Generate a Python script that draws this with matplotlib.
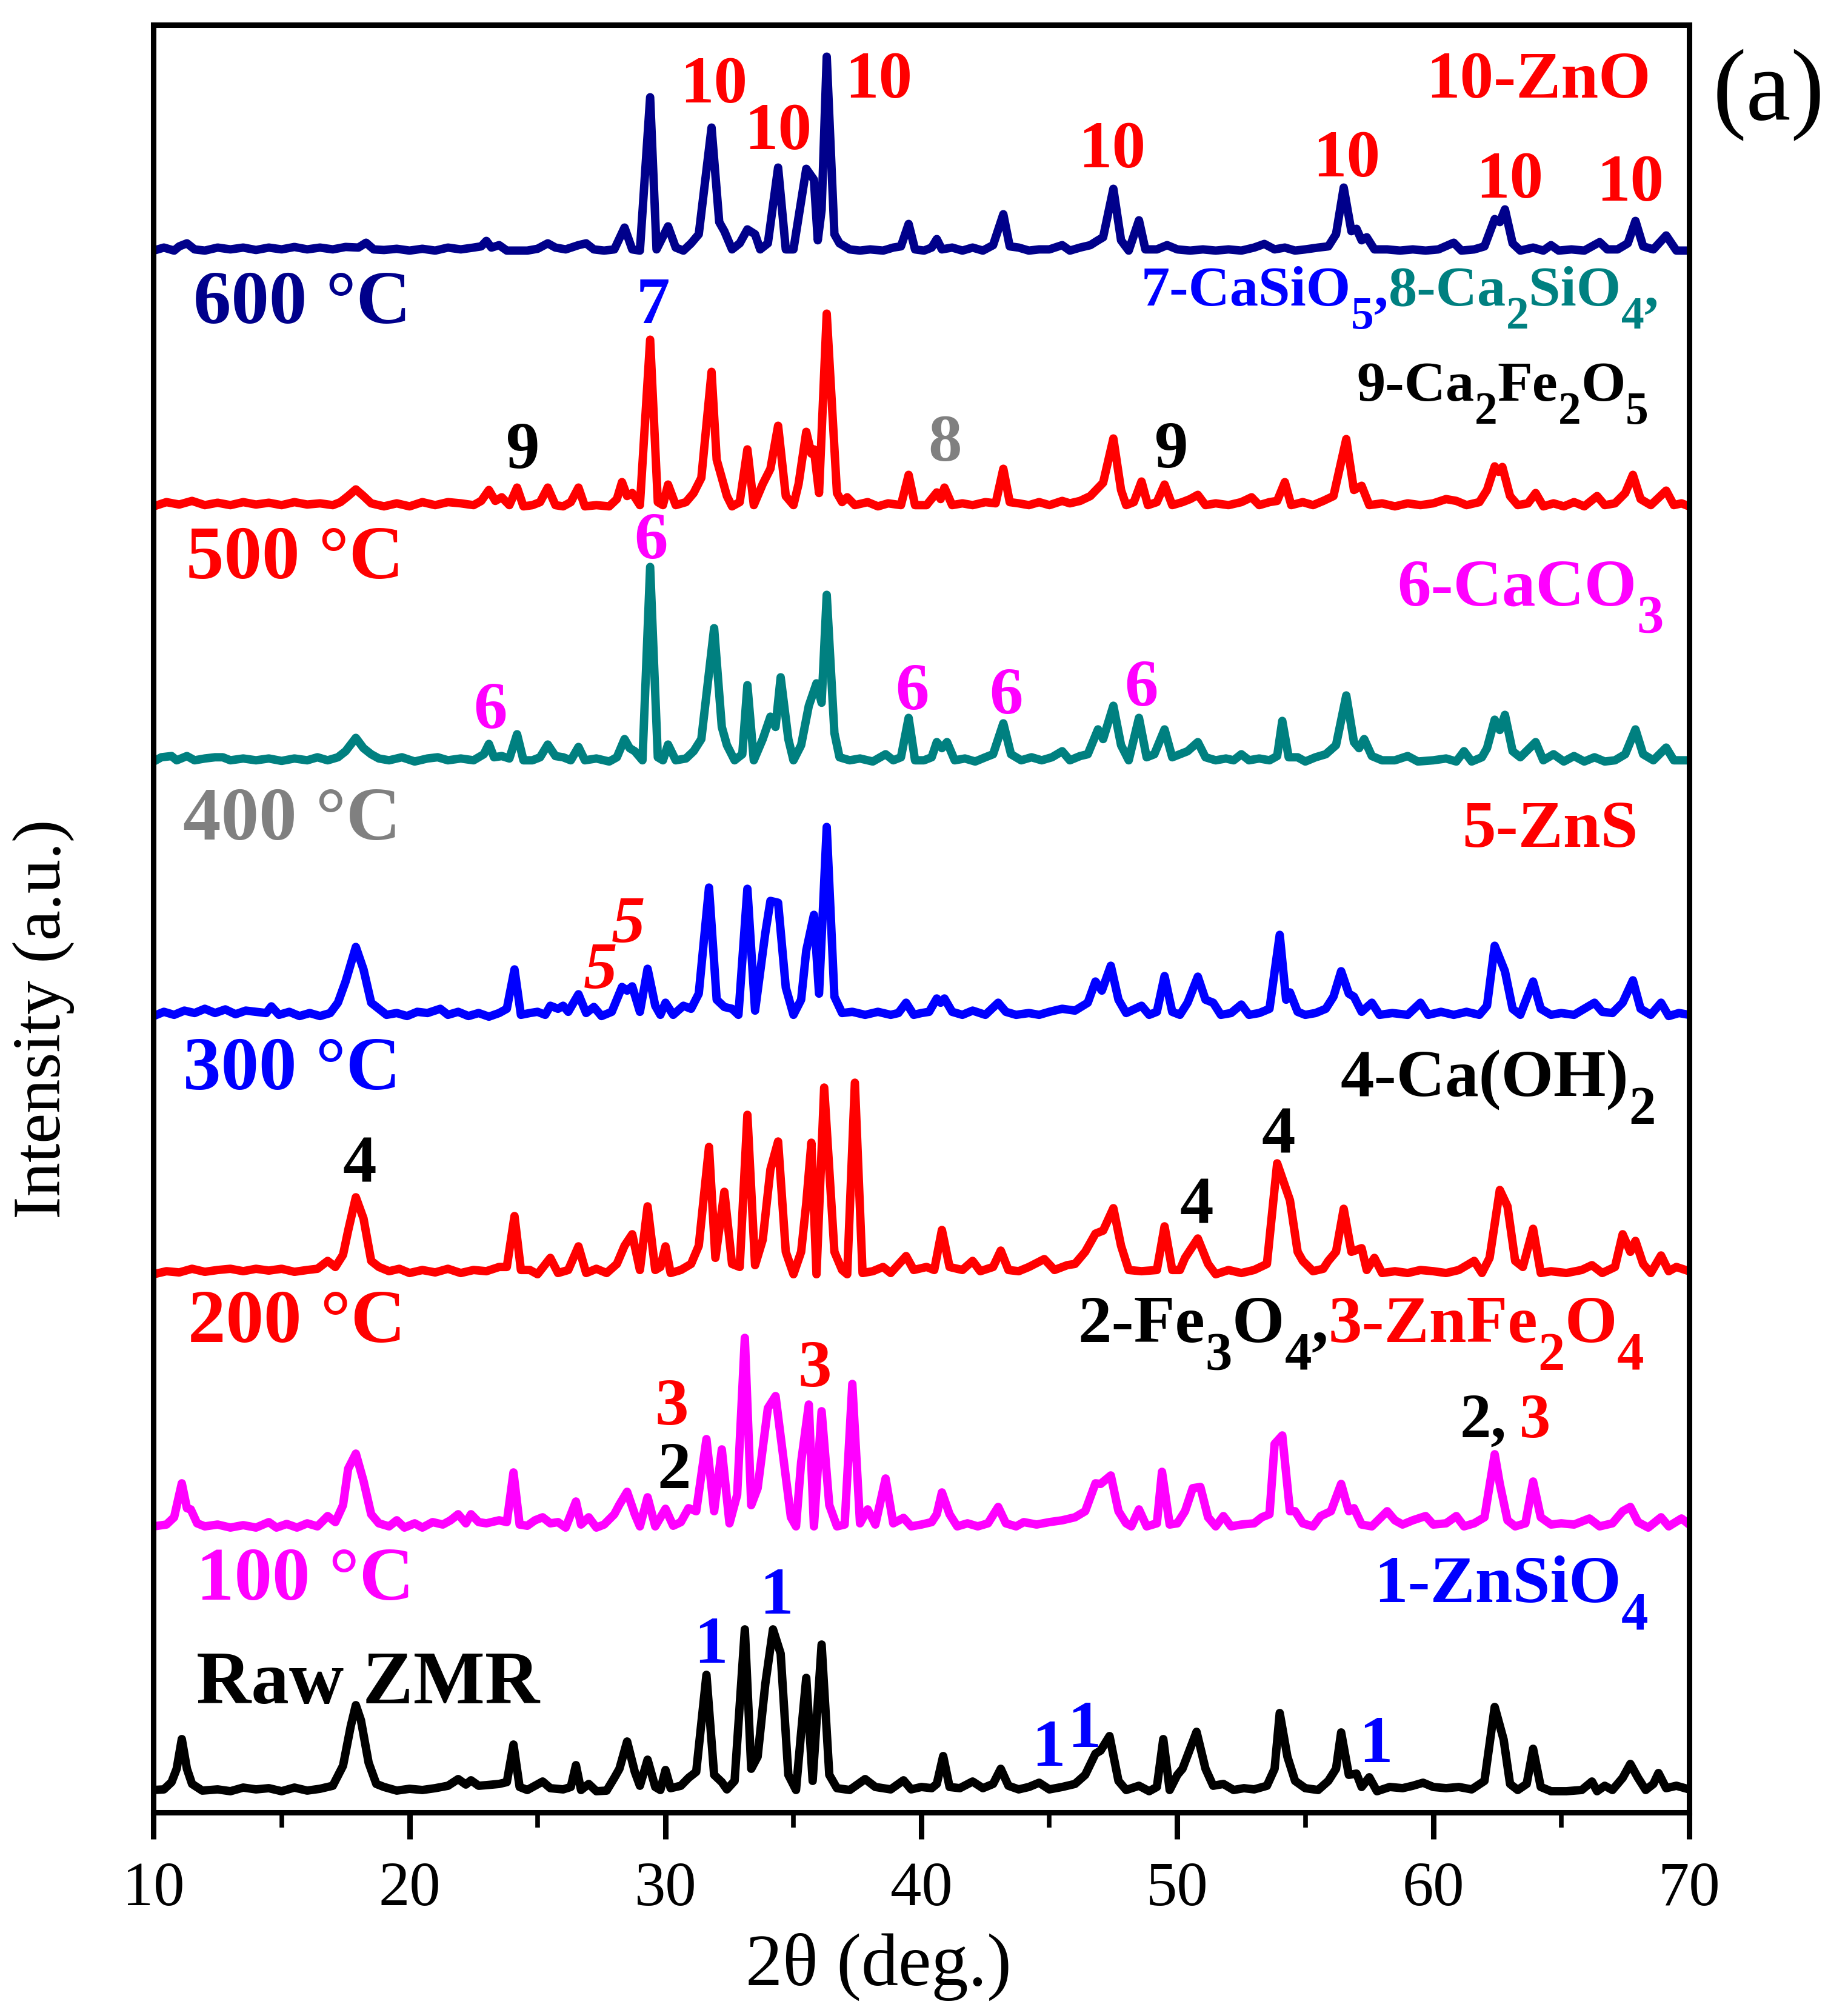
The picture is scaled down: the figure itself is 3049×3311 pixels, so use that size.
import numpy as np
import matplotlib
matplotlib.use('Agg')
import matplotlib.pyplot as plt
from matplotlib.ticker import MultipleLocator
from matplotlib.transforms import offset_copy

plt.rcParams['font.family'] = ['Liberation Serif', 'DejaVu Serif']

# XRD patterns: (2theta, intensity above own baseline, a.u.)
raw = [(10.0, 5), (10.4, 6), (10.7, 18), (10.9, 40), (11.1, 89), (11.3, 40), (11.5, 15), (11.9, 4),
       (12.5, 6), (13.0, 3), (13.5, 9), (14.0, 6), (14.5, 8), (15.0, 3), (15.5, 9), (16.0, 4),
       (16.5, 7), (17.0, 12), (17.4, 45), (17.7, 110), (17.9, 145), (18.1, 120), (18.4, 50),
       (18.7, 15), (19.0, 10), (19.5, 4), (20.0, 7), (20.5, 5), (21.0, 8), (21.5, 12), (21.9, 23),
       (22.2, 14), (22.4, 21), (22.7, 12), (23.0, 13), (23.5, 15), (23.8, 18), (24.06, 80),
       (24.3, 10), (24.6, 5), (24.9, 12), (25.2, 19), (25.5, 8), (26.0, 6), (26.3, 10), (26.5, 46),
       (26.7, 5), (27.0, 15), (27.3, 3), (27.7, 4), (28.0, 25), (28.2, 40), (28.5, 85), (28.8, 35),
       (29.0, 12), (29.3, 55), (29.6, 10), (29.8, 5), (30.0, 38), (30.2, 8), (30.6, 12), (30.9, 25),
       (31.2, 35), (31.6, 195), (31.9, 30), (32.2, 18), (32.4, 6), (32.7, 20), (33.1, 270),
       (33.35, 40), (33.6, 60), (33.9, 180), (34.2, 270), (34.5, 230), (34.8, 30), (35.1, 5),
       (35.3, 100), (35.5, 190), (35.75, 20), (36.1, 245), (36.4, 30), (36.7, 8), (37.2, 5),
       (37.8, 23), (38.2, 10), (38.8, 6), (39.3, 21), (39.6, 6), (40.0, 10), (40.4, 8), (40.6, 15),
       (40.85, 61), (41.1, 10), (41.5, 8), (42.0, 19), (42.4, 8), (42.8, 15), (43.1, 40), (43.4, 12),
       (43.8, 6), (44.2, 10), (44.6, 17), (45.0, 6), (45.5, 10), (46.0, 15), (46.4, 30), (46.8, 65),
       (47.0, 70), (47.35, 94), (47.7, 20), (48.0, 5), (48.5, 12), (48.9, 3), (49.2, 10), (49.45, 89),
       (49.7, 5), (50.0, 30), (50.2, 40), (50.75, 101), (51.1, 40), (51.4, 12), (51.8, 15), (52.2, 5),
       (52.6, 8), (53.0, 6), (53.5, 12), (53.8, 40), (54.0, 132), (54.3, 60), (54.6, 20), (55.0, 8),
       (55.5, 5), (55.9, 20), (56.2, 40), (56.4, 100), (56.7, 30), (57.0, 32), (57.2, 10), (57.5, 26),
       (57.8, 3), (58.3, 10), (58.8, 8), (59.2, 12), (59.6, 17), (60.0, 10), (60.5, 8), (61.0, 10),
       (61.5, 6), (62.0, 20), (62.4, 142), (62.75, 88), (63.0, 15), (63.3, 5), (63.65, 15), (63.9, 73),
       (64.2, 10), (64.6, 3), (65.2, 3), (65.8, 5), (66.2, 19), (66.4, 3), (66.7, 12), (67.0, 5),
       (67.4, 25), (67.7, 48), (68.0, 25), (68.3, 5), (68.6, 15), (68.8, 33), (69.1, 8), (69.5, 12),
       (70.0, 6)]

t100 = [(10.0, 5), (10.5, 8), (10.8, 20), (11.1, 76), (11.3, 35), (11.45, 33), (11.7, 10), (12.0, 5),
        (12.5, 8), (13.0, 3), (13.5, 7), (14.0, 3), (14.5, 12), (14.8, 3), (15.2, 9), (15.6, 3),
        (16.0, 10), (16.4, 5), (16.8, 22), (17.1, 12), (17.4, 40), (17.6, 100), (17.9, 125), (18.2, 80),
        (18.5, 25), (18.8, 10), (19.2, 5), (19.5, 15), (19.8, 3), (20.2, 10), (20.5, 3), (20.9, 12),
        (21.3, 8), (21.6, 15), (21.9, 25), (22.2, 10), (22.4, 25), (22.7, 12), (23.0, 10), (23.5, 15),
        (23.8, 12), (24.06, 94), (24.3, 8), (24.6, 6), (24.9, 15), (25.2, 20), (25.5, 10), (25.8, 12),
        (26.1, 3), (26.5, 46), (26.7, 8), (27.0, 20), (27.3, 3), (27.6, 8), (28.0, 25), (28.2, 41),
        (28.5, 62), (28.8, 25), (29.0, 5), (29.3, 53), (29.6, 5), (30.0, 34), (30.3, 6), (30.6, 12),
        (30.9, 35), (31.2, 30), (31.6, 149), (31.9, 30), (32.2, 132), (32.5, 10), (32.8, 57), (33.1, 316),
        (33.35, 40), (33.6, 68), (34.0, 200), (34.3, 220), (34.6, 120), (34.9, 20), (35.1, 5),
        (35.3, 111), (35.6, 206), (35.8, 5), (36.1, 195), (36.4, 40), (36.7, 5), (37.0, 8), (37.3, 240),
        (37.6, 10), (37.9, 33), (38.2, 8), (38.6, 84), (38.9, 10), (39.3, 19), (39.6, 5), (40.0, 8),
        (40.4, 12), (40.6, 25), (40.8, 61), (41.1, 25), (41.4, 5), (41.8, 10), (42.2, 5), (42.6, 10),
        (43.0, 37), (43.3, 10), (43.7, 5), (44.0, 12), (44.5, 8), (45.0, 12), (45.5, 15), (46.0, 20),
        (46.4, 30), (46.8, 76), (47.0, 75), (47.4, 89), (47.7, 30), (48.0, 10), (48.2, 5), (48.5, 33),
        (48.8, 5), (49.2, 10), (49.4, 95), (49.7, 8), (50.0, 10), (50.3, 30), (50.6, 68), (50.9, 70),
        (51.2, 20), (51.5, 5), (51.8, 22), (52.1, 5), (52.5, 8), (53.0, 10), (53.3, 20), (53.6, 25),
        (53.8, 141), (54.1, 155), (54.4, 30), (54.6, 30), (54.9, 10), (55.3, 5), (55.6, 22), (56.0, 30),
        (56.4, 75), (56.7, 30), (56.9, 35), (57.2, 8), (57.6, 5), (58.2, 30), (58.5, 15), (58.8, 8),
        (59.2, 15), (59.7, 22), (60.0, 8), (60.5, 10), (60.9, 22), (61.2, 5), (61.6, 10), (62.0, 20),
        (62.4, 124), (62.6, 75), (62.9, 15), (63.2, 5), (63.6, 10), (63.9, 79), (64.2, 20), (64.6, 8),
        (65.0, 10), (65.5, 8), (66.1, 18), (66.5, 5), (67.0, 10), (67.4, 30), (67.7, 37), (68.0, 12),
        (68.4, 3), (68.9, 20), (69.2, 5), (69.7, 18), (70.0, 8)]

t200 = [(10.0, 3), (10.5, 8), (11.0, 6), (11.5, 12), (12.0, 7), (12.5, 10), (13.0, 12), (13.5, 8),
        (14.0, 12), (14.5, 9), (15.0, 12), (15.5, 7), (16.0, 10), (16.4, 12), (16.8, 25), (17.1, 15),
        (17.4, 35), (17.6, 75), (17.9, 130), (18.2, 95), (18.5, 25), (18.8, 15), (19.2, 8), (19.6, 12),
        (20.0, 5), (20.5, 10), (21.0, 6), (21.5, 12), (22.0, 5), (22.5, 10), (23.0, 8), (23.5, 15),
        (23.8, 15), (24.1, 99), (24.35, 10), (24.7, 10), (25.0, 3), (25.5, 30), (25.8, 5), (26.2, 10),
        (26.6, 49), (26.9, 5), (27.3, 12), (27.7, 5), (28.1, 20), (28.4, 50), (28.7, 69), (29.0, 10),
        (29.3, 115), (29.6, 10), (29.8, 15), (30.0, 49), (30.2, 5), (30.6, 10), (31.0, 20), (31.3, 50),
        (31.7, 213), (31.95, 30), (32.3, 139), (32.6, 20), (32.9, 15), (33.2, 266), (33.5, 18),
        (33.8, 60), (34.1, 176), (34.4, 222), (34.7, 40), (35.0, 3), (35.3, 40), (35.5, 120),
        (35.7, 220), (35.9, 3), (36.2, 311), (36.6, 40), (36.9, 10), (37.1, 3), (37.4, 319), (37.7, 5),
        (38.1, 8), (38.5, 15), (38.8, 5), (39.4, 33), (39.7, 10), (40.2, 15), (40.5, 10), (40.8, 76),
        (41.1, 15), (41.6, 10), (42.0, 25), (42.3, 8), (42.8, 15), (43.1, 42), (43.4, 10), (43.8, 8),
        (44.2, 15), (44.8, 28), (45.2, 10), (45.7, 18), (46.0, 20), (46.4, 40), (46.8, 70), (47.1, 75),
        (47.5, 112), (47.8, 50), (48.1, 10), (48.6, 8), (49.2, 10), (49.5, 82), (49.8, 10), (50.1, 10),
        (50.3, 30), (50.8, 62), (51.2, 20), (51.5, 3), (52.0, 10), (52.5, 5), (53.0, 10), (53.5, 20),
        (53.9, 186), (54.4, 125), (54.7, 40), (54.9, 25), (55.3, 8), (55.7, 12), (55.9, 25), (56.2, 40),
        (56.5, 111), (56.8, 40), (57.2, 46), (57.4, 10), (57.7, 30), (58.0, 5), (58.5, 8), (59.0, 5),
        (59.5, 10), (60.0, 8), (60.5, 5), (61.0, 10), (61.6, 25), (61.9, 5), (62.2, 30), (62.6, 142),
        (62.9, 115), (63.2, 25), (63.5, 15), (63.9, 78), (64.2, 5), (64.6, 8), (65.2, 5), (65.8, 10),
        (66.2, 18), (66.6, 5), (67.1, 15), (67.4, 69), (67.7, 40), (67.9, 58), (68.2, 20), (68.5, 5),
        (68.9, 34), (69.2, 8), (69.5, 15), (70.0, 8)]

t300 = [(10.0, 3), (10.4, 10), (10.8, 5), (11.2, 12), (11.6, 8), (12.0, 15), (12.4, 8), (12.8, 14),
        (13.2, 6), (13.6, 12), (14.0, 10), (14.4, 8), (14.6, 19), (14.9, 5), (15.3, 10), (15.7, 3),
        (16.1, 8), (16.5, 3), (16.9, 8), (17.2, 25), (17.5, 60), (17.9, 117), (18.2, 80), (18.5, 25),
        (18.8, 15), (19.1, 5), (19.5, 8), (19.9, 3), (20.3, 10), (20.7, 8), (21.2, 15), (21.5, 5),
        (21.9, 10), (22.3, 3), (22.7, 8), (23.1, 2), (23.5, 8), (23.8, 15), (24.1, 80), (24.35, 5),
        (24.7, 8), (25.0, 10), (25.3, 5), (25.5, 20), (25.8, 15), (26.0, 20), (26.2, 10), (26.6, 39),
        (26.9, 8), (27.2, 18), (27.5, 3), (27.9, 10), (28.3, 51), (28.5, 45), (28.7, 52), (29.0, 10),
        (29.3, 81), (29.6, 20), (29.8, 5), (30.0, 25), (30.3, 5), (30.7, 20), (31.0, 15), (31.3, 40),
        (31.7, 215), (32.0, 30), (32.3, 18), (32.6, 15), (32.85, 5), (33.2, 213), (33.5, 12),
        (33.9, 140), (34.1, 193), (34.4, 190), (34.7, 50), (35.0, 5), (35.3, 30), (35.5, 111),
        (35.8, 170), (36.0, 40), (36.3, 315), (36.6, 35), (36.9, 8), (37.3, 10), (37.8, 5), (38.3, 10),
        (38.8, 5), (39.1, 8), (39.4, 25), (39.7, 5), (40.0, 8), (40.3, 10), (40.6, 32), (40.75, 25),
        (40.9, 32), (41.2, 10), (41.6, 5), (42.0, 12), (42.5, 5), (43.0, 25), (43.3, 10), (43.7, 5),
        (44.2, 8), (44.6, 5), (45.0, 10), (45.5, 15), (46.0, 12), (46.5, 25), (46.8, 60), (47.05, 45),
        (47.4, 86), (47.7, 30), (48.0, 8), (48.6, 20), (48.9, 5), (49.2, 10), (49.5, 69), (49.8, 10),
        (50.1, 5), (50.4, 25), (50.8, 68), (51.1, 30), (51.4, 25), (51.7, 5), (52.1, 8), (52.5, 22),
        (52.8, 5), (53.2, 8), (53.6, 15), (54.0, 137), (54.25, 30), (54.4, 42), (54.7, 10), (55.0, 5),
        (55.4, 8), (55.8, 15), (56.1, 35), (56.4, 77), (56.7, 40), (56.9, 35), (57.2, 10), (57.6, 25),
        (57.9, 5), (58.4, 8), (59.0, 5), (59.5, 25), (59.8, 5), (60.3, 10), (60.8, 5), (61.3, 10),
        (61.8, 5), (62.1, 20), (62.4, 119), (62.8, 77), (63.1, 15), (63.4, 5), (63.9, 60), (64.2, 15),
        (64.6, 5), (65.0, 8), (65.5, 5), (65.9, 15), (66.3, 25), (66.6, 10), (67.0, 8), (67.4, 25),
        (67.8, 62), (68.1, 15), (68.5, 5), (68.9, 25), (69.2, 3), (69.6, 8), (70.0, 5)]

t400 = [(10.0, 3), (10.3, 10), (10.7, 12), (10.9, 5), (11.3, 12), (11.6, 5), (12.0, 8), (12.4, 10),
        (12.7, 10), (13.0, 5), (13.5, 8), (14.0, 5), (14.5, 8), (15.0, 4), (15.5, 8), (16.0, 5),
        (16.4, 10), (16.8, 5), (17.2, 10), (17.5, 20), (17.9, 42), (18.2, 25), (18.5, 15), (18.8, 8),
        (19.2, 5), (19.7, 10), (20.2, 3), (20.7, 8), (21.1, 10), (21.5, 5), (22.0, 8), (22.5, 5),
        (22.9, 15), (23.1, 32), (23.3, 10), (23.6, 12), (23.9, 8), (24.2, 48), (24.45, 5), (24.8, 5),
        (25.1, 10), (25.4, 31), (25.7, 12), (26.0, 10), (26.3, 5), (26.6, 27), (26.85, 5), (27.3, 8),
        (27.8, 3), (28.1, 10), (28.4, 40), (28.6, 25), (28.8, 20), (29.1, 5), (29.4, 324), (29.7, 10),
        (29.9, 5), (30.1, 31), (30.4, 5), (30.8, 8), (31.1, 20), (31.4, 40), (31.9, 223), (32.2, 60),
        (32.4, 30), (32.7, 5), (33.0, 15), (33.2, 129), (33.45, 5), (33.8, 40), (34.1, 77), (34.3, 60),
        (34.5, 142), (34.8, 40), (35.0, 5), (35.3, 30), (35.6, 95), (35.9, 132), (36.1, 100),
        (36.3, 278), (36.6, 50), (36.8, 10), (37.2, 5), (37.6, 8), (38.1, 3), (38.6, 15), (38.9, 5),
        (39.2, 10), (39.5, 75), (39.75, 5), (40.1, 5), (40.4, 10), (40.6, 35), (40.8, 25), (41.0, 35),
        (41.3, 5), (41.7, 8), (42.1, 3), (42.5, 10), (42.8, 15), (43.2, 66), (43.5, 15), (43.9, 5),
        (44.3, 10), (44.7, 5), (45.1, 10), (45.5, 20), (45.8, 5), (46.2, 12), (46.5, 15), (46.9, 56),
        (47.1, 40), (47.5, 95), (47.8, 30), (48.1, 5), (48.5, 75), (48.8, 10), (49.1, 15), (49.5, 56),
        (49.8, 10), (50.1, 15), (50.4, 20), (50.8, 35), (51.1, 10), (51.5, 5), (51.9, 8), (52.2, 5),
        (52.5, 15), (52.8, 5), (53.2, 8), (53.6, 5), (53.9, 12), (54.1, 70), (54.35, 10), (54.7, 10),
        (55.0, 3), (55.4, 10), (55.8, 15), (56.2, 30), (56.6, 112), (56.9, 35), (57.1, 25), (57.3, 40),
        (57.6, 12), (58.0, 5), (58.5, 5), (59.0, 12), (59.4, 3), (60.0, 5), (60.5, 8), (60.9, 3),
        (61.2, 20), (61.5, 3), (61.9, 10), (62.1, 25), (62.4, 72), (62.6, 55), (62.8, 80), (63.1, 20),
        (63.4, 10), (64.0, 35), (64.3, 5), (64.7, 15), (65.1, 3), (65.5, 12), (65.9, 3), (66.3, 10),
        (66.7, 3), (67.1, 5), (67.5, 15), (67.9, 56), (68.2, 15), (68.6, 5), (69.1, 26), (69.4, 5),
        (70.0, 5)]

t500 = [(10.0, 3), (10.5, 10), (11.0, 6), (11.5, 12), (12.0, 5), (12.5, 9), (13.0, 5), (13.5, 10),
        (14.0, 6), (14.5, 9), (15.0, 5), (15.5, 10), (16.0, 6), (16.5, 8), (17.0, 5), (17.3, 10),
        (17.6, 20), (17.9, 31), (18.2, 20), (18.5, 8), (19.0, 3), (19.5, 8), (20.0, 3), (20.5, 10),
        (21.0, 5), (21.5, 10), (22.0, 8), (22.5, 5), (22.8, 12), (23.1, 30), (23.35, 12), (23.6, 18),
        (23.9, 5), (24.2, 34), (24.45, 3), (24.8, 5), (25.1, 10), (25.4, 34), (25.7, 5), (26.0, 3),
        (26.3, 10), (26.6, 34), (26.85, 3), (27.3, 5), (27.8, 3), (28.1, 15), (28.3, 43), (28.5, 20),
        (28.7, 25), (29.0, 5), (29.4, 278), (29.7, 10), (29.9, 5), (30.1, 39), (30.4, 5), (30.8, 10),
        (31.1, 25), (31.4, 50), (31.8, 225), (32.0, 80), (32.2, 50), (32.4, 20), (32.6, 3), (32.9, 10),
        (33.2, 97), (33.45, 5), (33.8, 40), (34.1, 65), (34.4, 136), (34.7, 20), (35.0, 5), (35.2, 40),
        (35.5, 126), (35.7, 90), (35.8, 97), (36.0, 25), (36.3, 321), (36.7, 25), (36.9, 10),
        (37.1, 18), (37.4, 5), (37.9, 10), (38.3, 3), (38.7, 8), (39.2, 5), (39.5, 55), (39.75, 5),
        (40.2, 5), (40.6, 26), (40.75, 15), (40.9, 34), (41.2, 5), (41.6, 8), (42.0, 5), (42.5, 10),
        (42.9, 8), (43.2, 65), (43.45, 10), (43.8, 8), (44.2, 5), (44.6, 10), (45.0, 5), (45.5, 12),
        (45.8, 8), (46.2, 12), (46.6, 20), (47.1, 42), (47.5, 115), (47.8, 30), (48.0, 5), (48.3, 10),
        (48.6, 44), (48.85, 5), (49.2, 10), (49.5, 39), (49.8, 5), (50.2, 10), (50.5, 15), (50.8, 22),
        (51.1, 5), (51.5, 8), (52.0, 5), (52.5, 10), (52.9, 18), (53.2, 5), (53.6, 10), (53.9, 12),
        (54.2, 43), (54.45, 5), (54.9, 10), (55.3, 5), (55.7, 12), (56.1, 20), (56.6, 114), (56.9, 30),
        (57.2, 37), (57.5, 5), (58.0, 8), (58.5, 3), (59.0, 8), (59.5, 5), (60.0, 8), (60.5, 15),
        (60.9, 12), (61.3, 5), (61.8, 10), (62.1, 30), (62.4, 69), (62.55, 60), (62.7, 68), (63.0, 20),
        (63.3, 5), (63.7, 8), (64.0, 25), (64.3, 3), (64.7, 8), (65.1, 3), (65.5, 10), (65.9, 3),
        (66.4, 20), (66.7, 5), (67.1, 8), (67.5, 25), (67.8, 55), (68.1, 15), (68.5, 5), (69.1, 29),
        (69.4, 5), (69.7, 8), (70.0, 3)]

t600 = [(10.0, 3), (10.4, 8), (10.8, 3), (11.0, 10), (11.3, 15), (11.6, 5), (12.0, 3), (12.5, 8),
        (13.0, 5), (13.5, 8), (14.0, 4), (14.5, 8), (15.0, 5), (15.5, 9), (16.0, 5), (16.5, 8),
        (17.0, 5), (17.5, 9), (18.0, 8), (18.3, 16), (18.6, 5), (19.0, 4), (19.5, 6), (20.0, 3),
        (20.5, 6), (21.0, 3), (21.5, 8), (22.0, 5), (22.5, 8), (22.8, 10), (23.0, 19), (23.2, 8),
        (23.5, 12), (23.8, 3), (24.2, 3), (24.6, 3), (25.0, 6), (25.4, 15), (25.7, 8), (26.1, 5),
        (26.6, 12), (26.9, 15), (27.2, 5), (27.6, 3), (28.0, 5), (28.4, 41), (28.7, 5), (29.0, 3),
        (29.4, 256), (29.65, 5), (30.1, 43), (30.4, 8), (30.7, 3), (31.0, 15), (31.3, 30), (31.8, 206),
        (32.1, 50), (32.3, 35), (32.6, 5), (32.9, 15), (33.2, 38), (33.5, 30), (33.7, 5), (34.0, 15),
        (34.4, 140), (34.7, 5), (35.0, 5), (35.5, 138), (35.8, 120), (35.95, 20), (36.1, 70),
        (36.3, 323), (36.6, 30), (36.8, 15), (37.2, 5), (37.6, 3), (38.0, 5), (38.5, 3), (38.9, 8),
        (39.2, 10), (39.5, 47), (39.75, 5), (40.1, 3), (40.4, 8), (40.6, 22), (40.8, 5), (41.2, 8),
        (41.6, 3), (42.0, 8), (42.4, 3), (42.8, 12), (43.2, 63), (43.45, 10), (43.8, 8), (44.2, 3),
        (44.6, 5), (45.0, 5), (45.5, 12), (45.8, 3), (46.2, 8), (46.6, 12), (46.9, 20), (47.1, 25),
        (47.5, 105), (47.8, 20), (48.1, 3), (48.5, 53), (48.75, 5), (49.2, 5), (49.6, 12), (50.0, 5),
        (50.5, 3), (51.0, 5), (51.5, 3), (52.0, 5), (52.5, 3), (53.0, 8), (53.4, 14), (53.8, 5),
        (54.2, 8), (54.6, 3), (55.0, 5), (55.5, 8), (55.9, 10), (56.2, 30), (56.5, 107), (56.8, 35),
        (57.0, 39), (57.2, 20), (57.4, 25), (57.7, 5), (58.2, 5), (58.7, 3), (59.2, 5), (59.7, 3),
        (60.2, 5), (60.8, 16), (61.1, 3), (61.6, 5), (62.0, 10), (62.4, 55), (62.6, 50), (62.8, 71),
        (63.1, 15), (63.4, 3), (63.9, 8), (64.3, 3), (64.6, 12), (64.9, 3), (65.4, 5), (65.9, 3),
        (66.5, 17), (66.8, 5), (67.2, 5), (67.6, 15), (67.9, 52), (68.2, 10), (68.6, 5), (69.1, 28),
        (69.5, 3), (70.0, 3)]

patterns = [raw, t100, t200, t300, t400, t500, t600]
offsets = [32, 467, 885, 1311, 1731, 2152, 2574]
line_colors = ['black', '#FF00FF', '#FF0000', '#0000FF', '#008080', '#FF0000', '#00008B']

sample_names = ['Raw ZMR', '100 °C', '200 °C', '300 °C', '400 °C', '500 °C', '600 °C']
sample_colors = ['black', '#FF00FF', '#FF0000', '#0000FF', '#808080', '#FF0000', '#00008B']
sample_pos = [(11.66, 180), (11.66, 351), (11.35, 776), (11.16, 1193), (11.16, 1605),
              (11.26, 2036), (11.56, 2457)]

# peak markers: text, 2theta, height, colour
peak_marks = [
    ('10', 31.88, 2821, '#FF0000'), ('10', 34.39, 2744, '#FF0000'), ('10', 38.32, 2829, '#FF0000'),
    ('10', 47.45, 2714, '#FF0000'), ('10', 56.61, 2699, '#FF0000'), ('10', 62.98, 2664, '#FF0000'),
    ('10', 67.70, 2659, '#FF0000'),
    ('7', 29.52, 2457, '#0000FF'),
    ('9', 24.42, 2218, 'black'), ('9', 49.77, 2219, 'black'),
    ('8', 40.91, 2230, '#808080'),
    ('6', 29.42, 2069, '#FF00FF'), ('6', 23.15, 1789, '#FF00FF'), ('6', 39.63, 1820, '#FF00FF'),
    ('6', 43.30, 1813, '#FF00FF'), ('6', 48.60, 1826, '#FF00FF'),
    ('4', 18.05, 1041, 'black'), ('4', 53.96, 1089, 'black'), ('4', 50.76, 973, 'black'),
    ('3', 30.25, 640, '#FF0000'), ('3', 35.84, 703, '#FF0000'),
    ('2', 30.34, 535, 'black'),
    ('1', 31.77, 247, '#0000FF'), ('1', 34.33, 328, '#0000FF'), ('1', 44.96, 77, '#0000FF'),
    ('1', 46.36, 108, '#0000FF'), ('1', 57.75, 83, '#0000FF'),
]
zns_marks = [(27.46, 1360), (28.55, 1436)]

R, K, B, T, M = '#FF0000', 'black', '#0000FF', '#008080', '#FF00FF'
# phase keys: segments (text, colour, subscript?), right edge 2theta, baseline, size
phase_keys = [
    ([('10-ZnO', R, 0)], 68.5, 2829, 80),
    ([('7-CaSiO', B, 0), ('5', B, 1), (',', B, 0), ('8-Ca', T, 0), ('2', T, 1),
      ('SiO', T, 0), ('4', T, 1), (',', T, 0)], 68.79, 2486, 68),
    ([('9-Ca', K, 0), ('2', K, 1), ('Fe', K, 0), ('2', K, 1), ('O', K, 0), ('5', K, 1)],
     68.4, 2329, 68),
    ([('6-CaCO', M, 0), ('3', M, 1)], 69.0, 1992, 80),
    ([('5-ZnS', R, 0)], 68.0, 1593, 80),
    ([('4-Ca(OH)', K, 0), ('2', K, 1)], 68.69, 1182, 80),
    ([('2-Fe', K, 0), ('3', K, 1), ('O', K, 0), ('4', K, 1), (',', K, 0), ('3-ZnFe', R, 0),
      ('2', R, 1), ('O', R, 0), ('4', R, 1)], 68.24, 776, 80),
    ([('2,', K, 0), ('\u2009', K, 0), ('3', R, 0)], 64.57, 619, 74),
    ([('1-ZnSiO', B, 0), ('4', B, 1)], 68.4, 347, 80),
]

fig = plt.figure(figsize=(30.49, 33.11), dpi=100)
ax = fig.add_axes([0.08314, 0.09695, 0.83093, 0.89052])

for pat, off, c in zip(patterns, offsets, line_colors):
    arr = np.array(pat, dtype=float)
    ax.plot(arr[:, 0], arr[:, 1] + off, color=c, lw=10,
            solid_joinstyle='round', solid_capstyle='round')

ax.set_xlim(10, 70)
ax.set_ylim(0, 2949)
ax.set_yticks([])
ax.xaxis.set_major_locator(MultipleLocator(10))
ax.xaxis.set_minor_locator(MultipleLocator(5))
ax.tick_params(axis='x', which='major', direction='out', length=32, width=6.5,
               labelsize=74, pad=26)
ax.tick_params(axis='x', which='minor', direction='out', length=18, width=5.5)
ax.tick_params(axis='y', left=False, labelleft=False)
for sp in ax.spines.values():
    sp.set_linewidth(6.5)

ax.set_xlabel('2θ (deg.)', fontsize=88)
ax.xaxis.label.set_va('baseline')
ax.xaxis.set_label_coords(0.472, -0.0966)
ax.set_ylabel('Intensity (a.u.)', fontsize=81)
ax.yaxis.set_label_coords(-0.0517, 0.444)

for name, c, (x, y) in zip(sample_names, sample_colors, sample_pos):
    ax.text(x, y, name, color=c, fontsize=90, fontweight='bold', ha='left', va='baseline')

for txt, x, y, c in peak_marks:
    ax.text(x, y, txt, color=c, fontsize=80, fontweight='bold', ha='center', va='baseline')

for x, y in zns_marks:
    ax.text(x, y, '5', color=R, fontsize=80, fontweight='bold', style='italic',
            ha='center', va='baseline')

# phase keys are laid out right to left, piece by piece, so colours and
# large dropped subscripts can follow the original
renderer = fig.canvas.get_renderer()
inv = ax.transData.inverted()
for segs, xr, y, size in phase_keys:
    x = xr
    for txt, c, sub in reversed(segs):
        if txt == '\u2009':
            x -= 0.5
            continue
        fs = size * 0.8 if sub else size
        tr = offset_copy(ax.transData, fig=fig, y=-0.4 * size if sub else 0, units='points')
        t = ax.text(x, y, txt, color=c, fontsize=fs, fontweight='bold',
                    ha='right', va='baseline', transform=tr)
        bb = t.get_window_extent(renderer=renderer)
        x = inv.transform((bb.x0, bb.y0))[0]

fig.text(0.957, 0.9526, '(a)', fontsize=120, ha='center', va='center')

fig.savefig('out.png', dpi=100)
